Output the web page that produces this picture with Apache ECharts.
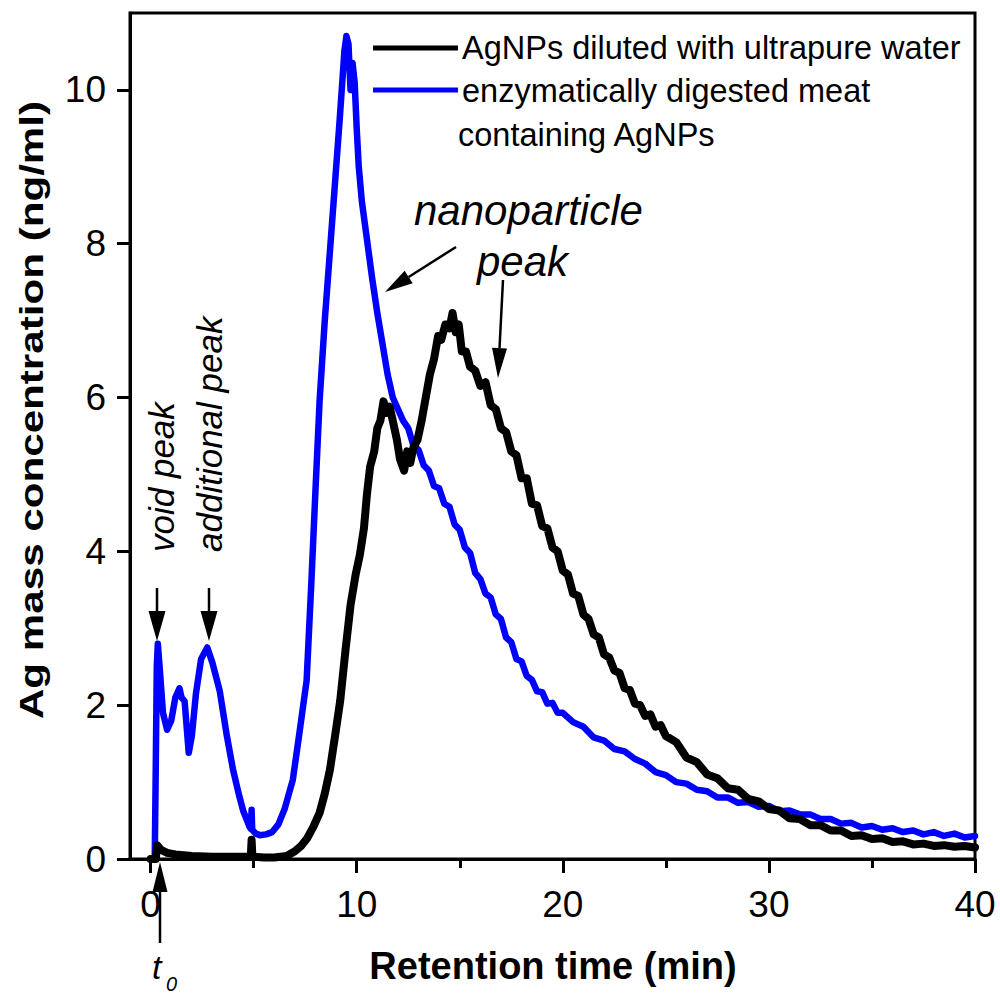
<!DOCTYPE html>
<html><head><meta charset="utf-8">
<script src="https://cdn.jsdelivr.net/npm/echarts@6/dist/echarts.min.js"></script>
<style>html,body{margin:0;padding:0;background:#fff}#c{width:1000px;height:997px}</style>
</head><body><div id="c"></div>
<script>
// ---- data ----
const xTickValues = [0, 10, 20, 30, 40];
const xMinorTickValues = [5, 15, 25, 35];
const yTickValues = [0, 2, 4, 6, 8, 10];
const seriesNames = ['AgNPs diluted with ultrapure water', 'enzymatically digested meat', 'containing AgNPs'];

// black: AgNPs diluted with ultrapure water  [time (min), conc (ng/ml)]
const waterData = [[0,0],[0.25,0],[0.32,0.18],[0.5,0.12],[0.8,0.08],[1.2,0.06],[2,0.04],[3,0.03],[4,0.03],[4.86,0.03],[4.9,0.25],[4.94,0.03],[5.5,0.02],[6,0.02],[6.6,0.04],[7,0.1],[7.3,0.17],[7.6,0.27],[7.9,0.42],[8.2,0.6],[8.45,0.85],[8.7,1.16],[8.95,1.6],[9.2,2.06],[9.45,2.7],[9.7,3.3],[9.95,3.7],[10.15,3.95],[10.35,4.3],[10.5,4.75],[10.65,5.1],[10.85,5.3],[11.0,5.6],[11.15,5.7],[11.3,5.95],[11.45,5.8],[11.6,5.88],[11.75,5.7],[11.95,5.45],[12.1,5.2],[12.3,5.05],[12.45,5.3],[12.6,5.15],[12.75,5.35],[12.95,5.45],[13.15,5.7],[13.35,6.0],[13.55,6.3],[13.75,6.5],[13.95,6.8],[14.1,6.75],[14.3,6.95],[14.5,6.9],[14.65,7.1],[14.8,6.85],[14.95,6.95],[15.1,6.6],[15.3,6.6],[15.5,6.4],[15.75,6.35],[16.0,6.15],[16.25,6.2],[16.5,5.9],[16.75,5.85],[17.0,5.6],[17.25,5.55],[17.5,5.3],[17.75,5.25],[18.0,4.95],[18.25,4.95],[18.5,4.62],[18.75,4.6],[19.0,4.33],[19.25,4.3],[19.5,4.05],[19.75,4.0],[20.0,3.75],[20.25,3.7],[20.5,3.45],[20.75,3.42],[21.0,3.18],[21.25,3.12],[21.5,2.92],[21.75,2.88],[22.0,2.66],[22.25,2.62],[22.5,2.45],[22.75,2.42],[23.0,2.22],[23.25,2.2],[23.5,2.02],[23.75,2.0],[24.0,1.86],[24.25,1.88],[24.5,1.72],[24.75,1.74],[25.0,1.6],[25.5,1.52],[26.0,1.32],[26.5,1.26],[27.0,1.1],[27.5,1.05],[28.0,0.92],[28.5,0.9],[29.0,0.78],[29.5,0.75],[30.0,0.65],[30.5,0.63],[31.0,0.53],[31.5,0.52],[32.0,0.44],[32.5,0.44],[33.0,0.37],[33.5,0.37],[34.0,0.3],[34.5,0.31],[35.0,0.26],[35.5,0.27],[36.0,0.22],[36.5,0.23],[37.0,0.19],[37.5,0.2],[38.0,0.17],[38.5,0.18],[39.0,0.16],[39.5,0.17],[40.0,0.15]];

// blue: enzymatically digested meat containing AgNPs
const meatData = [[0,0],[0.2,0],[0.25,1.2],[0.3,2.5],[0.35,2.8],[0.45,2.45],[0.6,1.9],[0.8,1.68],[1.0,1.8],[1.2,2.1],[1.4,2.22],[1.5,2.1],[1.65,2.05],[1.85,1.38],[2.0,1.6],[2.2,2.15],[2.45,2.6],[2.75,2.75],[3.0,2.55],[3.35,2.19],[3.7,1.6],[4.0,1.16],[4.3,0.82],[4.5,0.62],[4.8,0.42],[4.87,0.39],[4.9,0.64],[4.93,0.38],[5.1,0.33],[5.3,0.31],[5.6,0.32],[5.9,0.35],[6.2,0.45],[6.5,0.65],[6.9,1.03],[7.2,1.6],[7.57,2.32],[7.8,3.6],[8.0,4.8],[8.2,5.96],[8.45,7.0],[8.7,7.9],[8.95,8.8],[9.17,9.6],[9.3,10.1],[9.4,10.5],[9.5,10.7],[9.6,10.6],[9.7,10.0],[9.8,10.35],[9.9,10.1],[10.0,9.5],[10.1,9.0],[10.25,8.55],[10.45,8.15],[10.75,7.55],[11.0,7.1],[11.25,6.7],[11.5,6.3],[11.75,6.0],[12.0,5.85],[12.25,5.7],[12.5,5.6],[12.75,5.38],[13.0,5.32],[13.25,5.12],[13.5,5.05],[13.75,4.85],[14.0,4.82],[14.25,4.62],[14.5,4.58],[14.75,4.35],[15.0,4.28],[15.25,4.05],[15.5,3.98],[15.75,3.72],[16.0,3.64],[16.25,3.45],[16.5,3.4],[16.75,3.18],[17.0,3.12],[17.25,2.88],[17.5,2.82],[17.75,2.6],[18.0,2.57],[18.25,2.38],[18.5,2.33],[18.75,2.18],[19.0,2.17],[19.25,2.02],[19.5,2.03],[19.75,1.9],[20.0,1.9],[20.5,1.78],[21.0,1.72],[21.5,1.58],[22.0,1.54],[22.5,1.43],[23.0,1.4],[23.5,1.3],[24.0,1.24],[24.5,1.13],[25.0,1.09],[25.5,1.0],[26.0,0.98],[26.5,0.9],[27.0,0.88],[27.5,0.8],[28.0,0.8],[28.5,0.73],[29.0,0.74],[29.5,0.68],[30.0,0.69],[30.5,0.62],[31.0,0.63],[31.5,0.58],[32.0,0.58],[32.5,0.52],[33.0,0.52],[33.5,0.46],[34.0,0.47],[34.5,0.41],[35.0,0.43],[35.5,0.38],[36.0,0.4],[36.5,0.35],[37.0,0.37],[37.5,0.32],[38.0,0.35],[38.5,0.3],[39.0,0.33],[39.5,0.28],[40.0,0.3]];

// ---- chart ----
const FONT = '"Liberation Sans", Arial, sans-serif';
const chart = echarts.init(document.getElementById('c'), null, {renderer: 'svg'});

const option = {
  backgroundColor: '#fff',
  animation: false,
  grid: {left: 130, right: 25, top: 13, bottom: 138, show: true, borderColor: '#000', borderWidth: 3, backgroundColor: 'transparent'},
  xAxis: [{
    type: 'value', min: -1, max: 40, position: 'bottom',
    axisLine: {show: true, onZero: false, lineStyle: {color: '#000', width: 3}},
    axisTick: {show: true, inside: false, length: 14, lineStyle: {color: '#000', width: 3}, customValues: xTickValues},
    axisLabel: {show: true, margin: 27, color: '#000', fontSize: 37, fontFamily: FONT, customValues: xTickValues},
    splitLine: {show: false}
  }, {
    type: 'value', min: -1, max: 40, position: 'bottom', gridIndex: 0,
    axisLine: {show: false, onZero: false},
    axisTick: {show: true, inside: false, length: 9, lineStyle: {color: '#000', width: 3}, customValues: xMinorTickValues},
    axisLabel: {show: false},
    splitLine: {show: false}
  }],
  yAxis: {
    type: 'value', min: 0, max: 11,
    axisLine: {show: true, onZero: false, lineStyle: {color: '#000', width: 3}},
    axisTick: {show: true, inside: false, length: 13, lineStyle: {color: '#000', width: 3}, customValues: yTickValues},
    axisLabel: {show: true, margin: 24, color: '#000', fontSize: 37, fontFamily: FONT, customValues: yTickValues},
    splitLine: {show: false}
  },
  series: [{
    name: seriesNames[1] + ' ' + seriesNames[2], type: 'line', data: meatData, showSymbol: false, symbol: 'none',
    lineStyle: {color: '#0000ff', width: 6.5, join: 'round', cap: 'round'}, z: 2
  }, {
    name: seriesNames[0], type: 'line', data: waterData, showSymbol: false, symbol: 'none',
    lineStyle: {color: '#000000', width: 8, join: 'round', cap: 'round'}, z: 3
  }]
};
chart.setOption(option);

// ---- annotations (pixel layout) ----
function arrow(p1, p2, headLen, headW, lw) {
  const dx = p2[0] - p1[0], dy = p2[1] - p1[1];
  const L = Math.hypot(dx, dy), ux = dx / L, uy = dy / L;
  const bx = p2[0] - ux * headLen, by = p2[1] - uy * headLen;
  const nx = -uy, ny = ux;
  return [
    {type: 'line', z: 100, shape: {x1: p1[0], y1: p1[1], x2: bx, y2: by}, style: {stroke: '#000', lineWidth: lw}},
    {type: 'polygon', z: 100, shape: {points: [[p2[0], p2[1]], [bx + nx * headW / 2, by + ny * headW / 2], [bx - nx * headW / 2, by - ny * headW / 2]]}, style: {fill: '#000'}}
  ];
}
function txt(text, x, y, size, opts) {
  return Object.assign({type: 'text', z: 100, x: x, y: y, style: Object.assign({text: text, fontSize: size, fontFamily: FONT, fill: '#000', align: 'left', verticalAlign: 'middle'}, opts && opts.style || {})}, opts && opts.el || {});
}
const g = [];
// axis titles
g.push(txt('Ag mass concentration (ng/ml)', 31, 410, 34, {style: {fontWeight: 'bold', align: 'center'}, el: {rotation: Math.PI / 2, scaleX: 1.24}}));
g.push(txt('Retention time (min)', 553, 966, 38, {style: {fontWeight: 'bold', align: 'center'}}));
// legend
g.push({type: 'line', z: 100, shape: {x1: 373, y1: 48, x2: 458, y2: 48}, style: {stroke: '#000', lineWidth: 5}});
g.push({type: 'line', z: 100, shape: {x1: 373, y1: 90, x2: 458, y2: 90}, style: {stroke: '#0000ff', lineWidth: 5}});
g.push(txt(seriesNames[0], 462, 48, 32.5));
g.push(txt(seriesNames[1], 462, 91, 32.5));
g.push(txt(seriesNames[2], 458, 135, 32.5));
// peak labels
g.push(txt('void peak', 161, 552, 35, {style: {fontStyle: 'italic'}, el: {rotation: Math.PI / 2}}));
g.push(txt('additional peak', 209, 552, 35, {style: {fontStyle: 'italic'}, el: {rotation: Math.PI / 2}}));
g.push(...arrow([157, 588], [157, 641], 30, 17, 2.5));
g.push(...arrow([209, 588], [209, 641], 30, 17, 2.5));
g.push(txt('nanoparticle', 414, 210, 42, {style: {fontStyle: 'italic'}}));
g.push(txt('peak', 477, 261, 42, {style: {fontStyle: 'italic'}}));
g.push(...arrow([456, 247], [385, 292], 28, 15, 2.5));
g.push(...arrow([503, 280], [498, 378], 30, 15, 2.5));
// t0
g.push(...arrow([160, 943], [160, 862], 30, 15, 2.5));
g.push(txt('t', 152, 967, 34, {style: {fontStyle: 'italic'}}));
g.push(txt('0', 166, 984, 20, {style: {fontStyle: 'italic'}}));
chart.setOption({graphic: {elements: g}});
</script>
</body></html>
